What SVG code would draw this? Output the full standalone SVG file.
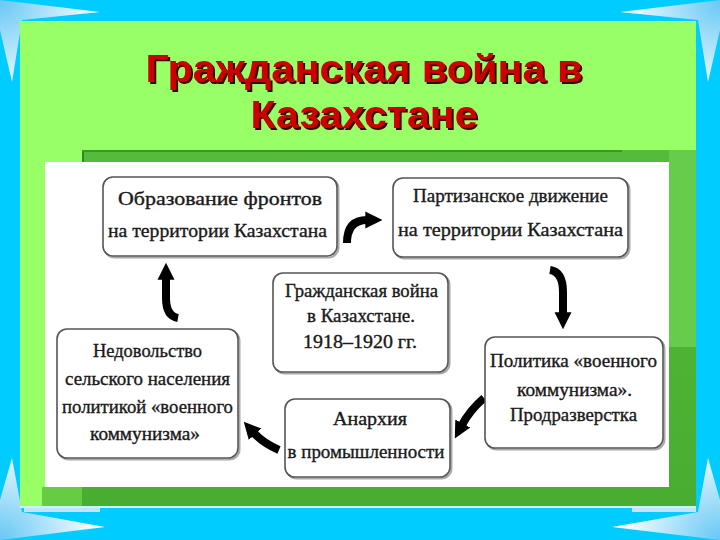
<svg xmlns="http://www.w3.org/2000/svg" width="720" height="540" viewBox="0 0 720 540">
  <defs>
    <radialGradient id="gTL" cx="0" cy="0" r="1" gradientUnits="userSpaceOnUse" gradientTransform="translate(0 0) scale(100)">
      <stop offset="0" stop-color="#66c8f5"/>
      <stop offset="1" stop-color="#ffffff"/>
    </radialGradient>
    <radialGradient id="gTR" cx="0" cy="0" r="1" gradientUnits="userSpaceOnUse" gradientTransform="translate(720 0) scale(100)">
      <stop offset="0" stop-color="#66c8f5"/>
      <stop offset="1" stop-color="#ffffff"/>
    </radialGradient>
    <radialGradient id="gBL" cx="0" cy="0" r="1" gradientUnits="userSpaceOnUse" gradientTransform="translate(0 540) scale(100)">
      <stop offset="0" stop-color="#66c8f5"/>
      <stop offset="1" stop-color="#ffffff"/>
    </radialGradient>
    <radialGradient id="gBR" cx="0" cy="0" r="1" gradientUnits="userSpaceOnUse" gradientTransform="translate(720 540) scale(100)">
      <stop offset="0" stop-color="#66c8f5"/>
      <stop offset="1" stop-color="#ffffff"/>
    </radialGradient>
    <linearGradient id="gDark" x1="0" y1="0" x2="0" y2="1">
      <stop offset="0" stop-color="#55bb3c"/>
      <stop offset="1" stop-color="#48ad30"/>
    </linearGradient>
    <filter id="tshadow" x="-5%" y="-20%" width="110%" height="140%">
      <feOffset in="SourceAlpha" dx="2" dy="2" result="off"/>
      <feFlood flood-color="#3a0000"/>
      <feComposite in2="off" operator="in" result="sh"/>
      <feMerge>
        <feMergeNode in="sh"/>
        <feMergeNode in="SourceGraphic"/>
      </feMerge>
    </filter>
    <marker id="ah" viewBox="0 0 10 10" refX="1" refY="5" markerWidth="17" markerHeight="22" markerUnits="userSpaceOnUse" orient="auto">
      <path d="M0,0 L10,5 L0,10 z" fill="#000"/>
    </marker>
    <style>
      .box { fill: #ffffff; stroke: #555555; stroke-width: 1.6; }
      .shadow { fill: none; stroke: #aaaaaa; stroke-width: 2; }
      .bt { font-family: "Liberation Serif", "DejaVu Serif", serif; font-size: 18px; fill: #1a1a1a; stroke: #1a1a1a; stroke-width: 0.35; text-anchor: middle; }
      .arrow { fill: none; stroke: #000; stroke-width: 8; marker-end: url(#ah); }
      .title { font-family: "Liberation Sans", Arial, sans-serif; font-weight: bold; font-size: 38px; text-anchor: middle; fill: #cc0000; }
    </style>
  </defs>

  <!-- background -->
  <rect x="0" y="0" width="720" height="540" fill="#00ccff"/>
  <polygon points="0,0 100,12 22,20 12,82 0,30" fill="url(#gTL)"/>
  <polygon points="720,0 620,12 698,20 708,82 720,30" fill="url(#gTR)"/>
  <polygon points="0,540 105,527 22,512 12,458 0,500" fill="url(#gBL)"/>
  <polygon points="720,540 612,527 698,512 708,458 720,500" fill="url(#gBR)"/>

  <!-- panels -->
  <rect x="20" y="21" width="676" height="485" fill="#99ff66"/>
  <rect x="82" y="150" width="614" height="356" fill="url(#gDark)"/>
  <rect x="669" y="150" width="27" height="197" fill="#66cc4c"/>
  <rect x="82" y="150" width="2" height="14" fill="#2e8a1e"/>
  <rect x="82" y="150" width="540" height="2" fill="#3a9a28"/>
  <rect x="42" y="487" width="40" height="19" fill="#66cc44"/>
  <rect x="20" y="506" width="676" height="2" fill="#ccf2ff"/>
  <rect x="24" y="508" width="76" height="4" fill="#bfe6f2"/>
  <rect x="632" y="508" width="64" height="4" fill="#bfe6f2"/>
  <rect x="45" y="162" width="624" height="325" fill="#ffffff"/>

  <!-- title -->
  <g id="title" filter="url(#tshadow)">
    <text class="title" x="364" y="82" textLength="437" lengthAdjust="spacingAndGlyphs">Гражданская война в</text>
    <text class="title" x="364" y="128" textLength="227" lengthAdjust="spacingAndGlyphs">Казахстане</text>
  </g>

  <!-- connectors -->
  <g id="connectors">
    <path class="arrow" d="M347,243 Q347,220 367,220"/>
    <path class="arrow" d="M550,270 Q563,272 563,292 L563,314"/>
    <path class="arrow" d="M484,398 Q470,410 462,425"/>
    <path class="arrow" d="M279,450 Q263,443 254,433"/>
    <path class="arrow" d="M178,318 Q166,316 166,298 L166,278"/>
  </g>

  <!-- nodes -->
  <g id="node-fronts">
    <rect class="shadow" x="104.5" y="178.5" width="234" height="79" rx="10"/>
    <rect class="box" x="103" y="177" width="234" height="79" rx="10"/>
    <text class="bt" x="220" y="205" textLength="204" lengthAdjust="spacingAndGlyphs">Образование фронтов</text>
    <text class="bt" x="217.5" y="237" textLength="219" lengthAdjust="spacingAndGlyphs">на территории Казахстана</text>
  </g>

  <g id="node-partisan">
    <rect class="shadow" x="394.5" y="179.5" width="235" height="79" rx="10"/>
    <rect class="box" x="393" y="178" width="235" height="79" rx="10"/>
    <text class="bt" x="510.5" y="202" textLength="195" lengthAdjust="spacingAndGlyphs">Партизанское движение</text>
    <text class="bt" x="510.5" y="236" textLength="225" lengthAdjust="spacingAndGlyphs">на территории Казахстана</text>
  </g>

  <g id="node-center">
    <rect class="shadow" x="274.5" y="274.5" width="175" height="99" rx="10"/>
    <rect class="box" x="273" y="273" width="175" height="99" rx="10"/>
    <text class="bt" x="361.5" y="297" textLength="153" lengthAdjust="spacingAndGlyphs">Гражданская война</text>
    <text class="bt" x="361" y="322" textLength="108" lengthAdjust="spacingAndGlyphs">в Казахстане.</text>
    <text class="bt" x="360" y="348" textLength="114" lengthAdjust="spacingAndGlyphs">1918–1920 гг.</text>
  </g>

  <g id="node-policy">
    <rect class="shadow" x="486.5" y="338.5" width="178" height="111" rx="10"/>
    <rect class="box" x="485" y="337" width="178" height="111" rx="10"/>
    <text class="bt" x="573.5" y="367" textLength="167" lengthAdjust="spacingAndGlyphs">Политика «военного</text>
    <text class="bt" x="574.5" y="396" textLength="115" lengthAdjust="spacingAndGlyphs">коммунизма».</text>
    <text class="bt" x="573.5" y="421" textLength="127" lengthAdjust="spacingAndGlyphs">Продразверстка</text>
  </g>

  <g id="node-anarchy">
    <rect class="shadow" x="286.5" y="400.5" width="165" height="78" rx="10"/>
    <rect class="box" x="285" y="399" width="165" height="78" rx="10"/>
    <text class="bt" x="370" y="425" textLength="74" lengthAdjust="spacingAndGlyphs">Анархия</text>
    <text class="bt" x="366" y="458" textLength="157" lengthAdjust="spacingAndGlyphs">в промышленности</text>
  </g>

  <g id="node-discontent">
    <rect class="shadow" x="58.5" y="330.5" width="181" height="129" rx="10"/>
    <rect class="box" x="57" y="329" width="181" height="129" rx="10"/>
    <text class="bt" x="147.5" y="357" textLength="109" lengthAdjust="spacingAndGlyphs">Недовольство</text>
    <text class="bt" x="147.5" y="385" textLength="165" lengthAdjust="spacingAndGlyphs">сельского населения</text>
    <text class="bt" x="147.5" y="413" textLength="171" lengthAdjust="spacingAndGlyphs">политикой «военного</text>
    <text class="bt" x="145" y="440" textLength="110" lengthAdjust="spacingAndGlyphs">коммунизма»</text>
  </g>
</svg>
